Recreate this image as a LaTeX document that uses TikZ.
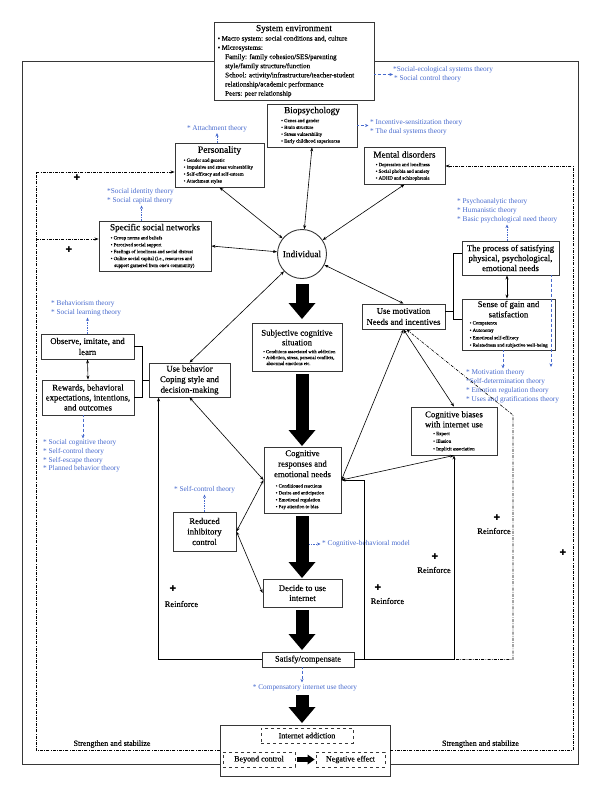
\documentclass[tikz,border=0pt]{standalone}
\usepackage{fontspec}
\setmainfont{Liberation Serif}
\newfontfamily\sbf{Liberation Serif}[FakeBold=0.25]
\newfontfamily\sbfl{Liberation Serif}[FakeBold=0.08]
\newfontfamily\djv{DejaVu Sans}
\usetikzlibrary{arrows.meta}
\definecolor{thblue}{RGB}{70,105,205}
\definecolor{bord}{RGB}{55,55,55}
\begin{document}
\begin{tikzpicture}[x=1pt,y=-1pt,
  box/.style={draw=bord, line width=0.9pt, fill=white, inner sep=0pt},
  dbox/.style={draw=bord, line width=0.8pt, dashed, inner sep=0pt, font=\sbf\fontsize{8}{9}\selectfont},
  ttl/.style={font=\sbf\fontsize{9.2}{10.5}\selectfont, align=center, inner sep=0pt},
  mid/.style={font=\sbf\fontsize{8.7}{10.5}\selectfont, align=center},
  bul/.style={font=\sbfl\fontsize{4.9}{6.9}\selectfont, align=left, inner sep=0pt, anchor=west},
  thy/.style={font=\fontsize{7.3}{9}\selectfont, text=thblue, align=left, inner sep=0pt, anchor=west},
  lbl/.style={font=\sbf\fontsize{8.5}{10}\selectfont, inner sep=0pt},
  plussign/.style={font=\djv\fontsize{8}{8}\selectfont, inner sep=0pt},
  ln/.style={line width=0.6pt},
  arr/.style={line width=0.6pt, -{Stealth[length=4pt,width=3pt]}},
  dbl/.style={line width=0.6pt, {Stealth[length=4pt,width=3pt]}-{Stealth[length=4pt,width=3pt]}},
  barr/.style={thblue, line width=0.7pt, dash pattern=on 2pt off 1.2pt on 0.6pt off 1.2pt, -{Stealth[length=3.5pt,width=3pt]}},
  dd/.style={line width=0.6pt, dash pattern=on 3pt off 1.3pt on 0.7pt off 1.3pt},
  frame/.style={draw=bord, line width=0.9pt},
  blk/.style={line width=13pt, -{Triangle[length=16pt,width=27pt,line width=0pt]}},
  sblk/.style={line width=5pt, -{Triangle[length=7pt,width=10pt,line width=0pt]}}
]
\useasboundingbox (0,0) rectangle (600,798);

% ---------- boxes ----------
\node[box, minimum width=160pt, minimum height=78pt] (sys) at (294,61) {};
\node[ttl] (syst) at (294,29) {System environment};
\node[bul, font=\sbf\fontsize{7}{9.17}\selectfont] (sysb) at (217.5,66.5) {\textbullet\hspace{1.5pt}Macro system: social conditions and, culture\\
\textbullet\hspace{1.5pt}Microsystems:\\
\hspace*{7.5pt}Family: family cohesion/SES/parenting\\
\hspace*{7.5pt}style/family structure/function\\
\hspace*{7.5pt}School: activity/infrastructure/teacher-student\\
\hspace*{7.5pt}relationship/academic performance\\
\hspace*{7.5pt}Peers: peer relationship};

\node[box, minimum width=90pt, minimum height=43pt] (bio) at (312,125.5) {};
\node[ttl] (biot) at (312,111) {Biopsychology};
\node[bul, font=\sbfl\fontsize{4.9}{6.8}\selectfont] (biob) at (281,131.2) {\textbullet\ Genes and gender\\ \textbullet\ Brain structure\\ \textbullet\ Stress vulnerability\\ \textbullet\ Early childhood experiences};

\node[box, minimum width=89pt, minimum height=44pt] (pers) at (219.5,165) {};
\node[ttl, font=\sbf\fontsize{9.6}{11}\selectfont] (perst) at (219.5,150.5) {Personality};
\node[bul] (persb) at (183.5,171) {\textbullet\ Gender and genetic\\ \textbullet\ Impulsive and stress vulnerability\\ \textbullet\ Self-efficacy and self-esteem\\ \textbullet\ Attachment styles};

\node[box, minimum width=81pt, minimum height=37pt] (ment) at (404.5,165.5) {};
\node[ttl] (mentt) at (404.5,154.5) {Mental disorders};
\node[bul, font=\sbfl\fontsize{4.9}{6.7}\selectfont] (mentb) at (375.5,171.7) {\textbullet\ Depression and loneliness\\ \textbullet\ Social phobia and anxiety\\ \textbullet\ ADHD and schizophrenia};

\node[box, minimum width=112pt, minimum height=50pt] (soc) at (155,246) {};
\node[ttl] (soct) at (155,228) {Specific social networks};
\node[bul] (socb) at (110.5,252) {\textbullet\ Group norms and beliefs\\ \textbullet\ Perceived social support\\ \textbullet\ Feelings of loneliness and social distrust\\ \textbullet\ Online social capital (i.e., resources and\\ \hspace*{3.6pt}support garnered from one's community)};

\node[circle, draw=bord, line width=0.9pt, fill=white, minimum size=49pt, inner sep=0pt, font=\sbf\fontsize{9.3}{10}\selectfont] (indiv) at (302,254) {Individual};

\node[box, mid, minimum width=97pt, minimum height=34pt, font=\sbf\fontsize{8.7}{10}\selectfont] (proc) at (510.5,258) {The process of satisfying\\physical, psychological,\\emotional needs};

\node[box, minimum width=93pt, minimum height=51pt] (sense) at (508.5,324.5) {};
\node[ttl, font=\sbf\fontsize{8.7}{10.3}\selectfont] (senset) at (508.5,309.2) {Sense of gain and\\satisfaction};
\node[bul, font=\sbfl\fontsize{4.9}{7.4}\selectfont] (senseb) at (469.5,334.5) {\textbullet\ Competence\\ \textbullet\ Autonomy\\ \textbullet\ Emotional self-efficacy\\ \textbullet\ Relatedness and subjective well-being};

\node[box, mid, minimum width=83pt, minimum height=25pt, font=\sbf\fontsize{8.7}{11}\selectfont] (mot) at (403.5,316.5) {Use motivation\\Needs and incentives};

\node[box, minimum width=90pt, minimum height=48pt] (subj) at (297,347) {};
\node[ttl, font=\sbf\fontsize{8.7}{9.6}\selectfont] (subjt) at (297,337.5) {Subjective cognitive\\situation};
\node[bul, font=\sbfl\fontsize{4.7}{5.9}\selectfont] (subjb) at (263,357.5) {\textbullet\ Conditions associated with addiction\\ \textbullet\ Addiction, stress, personal conflicts,\\ \hspace*{3.3pt}abnormal emotions etc.};

\node[box, mid, minimum width=81pt, minimum height=34pt] (useb) at (189.5,380) {Use behavior\\Coping style and\\decision-making};
\node[box, mid, minimum width=93pt, minimum height=25pt, font=\sbf\fontsize{8.7}{11}\selectfont] (obs) at (87.5,346.5) {Observe, imitate, and\\learn};
\node[box, mid, minimum width=92pt, minimum height=35pt, font=\sbf\fontsize{8.7}{10}\selectfont] (rew) at (88,397.5) {Rewards, behavioral\\expectations, intentions,\\and outcomes};

\node[box, minimum width=86pt, minimum height=48pt] (cogb) at (454,431) {};
\node[ttl, font=\sbf\fontsize{8.7}{10}\selectfont] (cogbt) at (454,419.3) {Cognitive biases\\with internet use};
\node[bul, font=\sbfl\fontsize{4.9}{7.6}\selectfont] (cogbb) at (433,441.7) {\textbullet\ Expect\\ \textbullet\ Illusion\\ \textbullet\ Implicit association};

\node[box, minimum width=77pt, minimum height=66pt] (cogr) at (302.5,480) {};
\node[ttl, font=\sbf\fontsize{8.7}{10.5}\selectfont] (cogrt) at (302.5,463.8) {Cognitive\\responses and\\emotional needs};
\node[bul] (cogrb) at (275.5,496.7) {\textbullet\ Conditioned reactions\\ \textbullet\ Desire and anticipation\\ \textbullet\ Emotional regulation\\ \textbullet\ Pay attention to bias};

\node[box, mid, minimum width=63pt, minimum height=39pt] (red) at (204.5,531.5) {Reduced\\inhibitory\\control};
\node[box, mid, minimum width=79pt, minimum height=28pt, font=\sbf\fontsize{8.7}{10}\selectfont] (dec) at (302.5,593) {Decide to use\\internet};
\node[box, mid, minimum width=92pt, minimum height=15pt, font=\sbf\fontsize{8.5}{10}\selectfont] (sat) at (308,659.5) {Satisfy/compensate};

\node[box, minimum width=170pt, minimum height=51pt] (ia) at (305,750.5) {};
\node[dbox, minimum width=92pt, minimum height=15pt] (iat) at (307,735.5) {Internet addiction};
\node[dbox, minimum width=72pt, minimum height=15pt] (bc) at (259,759.5) {Beyond control};
\node[dbox, minimum width=69pt, minimum height=15pt] (ne) at (350.5,759.5) {Negative effect};

% ---------- theory labels ----------
\node[thy] (systh) at (393,74.5) {*Social-ecological systems theory\\\hspace*{1pt}* Social control theory};
\node[thy] (bioth) at (370,127) {* Incentive-sensitization theory\\* The dual systems theory};
\node[thy, anchor=center] (persth) at (217,128.5) {* Attachment theory};
\node[thy] (socth) at (107,196.5) {*Social identity theory\\* Social capital theory};
\node[thy] (procth) at (457,211) {* Psychoanalytic theory\\* Humanistic theory\\* Basic psychological need theory};
\node[thy] (senseth) at (466,386.5) {* Motivation theory\\*Self-determination theory\\* Emotion regulation theory\\* Uses and gratifications theory};
\node[thy] (obsth) at (51,308.5) {* Behaviorism theory\\* Social learning theory};
\node[thy, font=\fontsize{7.3}{8.7}\selectfont] (rewth) at (43,456) {* Social cognitive theory\\* Self-control theory\\* Self-escape theory\\* Planned behavior theory};
\node[thy] (redth) at (174,490) {* Self-control theory};
\node[thy] (cbth) at (322,544) {* Cognitive-behavioral model};
\node[thy, anchor=center] (compth) at (305,688) {* Compensatory internet use theory};

% ---------- other labels ----------
\node[plussign] (p1) at (77,178) {✚};
\node[plussign] (p2) at (69,250) {✚};
\node[plussign] (p3) at (173,589) {✚};
\node[lbl] (r3) at (181.5,604) {Reinforce};
\node[plussign] (p4) at (378,588) {✚};
\node[lbl] (r4) at (387.5,601) {Reinforce};
\node[plussign] (p5) at (435,557) {✚};
\node[lbl] (r5) at (434,570) {Reinforce};
\node[plussign] (p6) at (497,518) {✚};
\node[lbl] (r6) at (494,531) {Reinforce};
\node[plussign] (p7) at (563,553) {✚};
\node[lbl, font=\sbf\fontsize{8}{9}\selectfont] (st1) at (112,744) {Strengthen and stabilize};
\node[lbl, font=\sbf\fontsize{8}{9}\selectfont] (st2) at (480.5,744) {Strengthen and stabilize};

% ---------- coordinates ----------
\coordinate (fl) at (22,764);
\coordinate (fr) at (578,764);
\coordinate (dl1) at (36,172);
\coordinate (dl2) at (36,239);
\coordinate (dr1) at (573,166);
\coordinate (bkt) at (453,253);
\coordinate (bkm) at (453,311);
\coordinate (bkb) at (453,319.3);
\coordinate (lb) at (142,380);
\coordinate (rj) at (364,659.5);
\coordinate (fb1) at (513,415);
\coordinate (fb2) at (513,659.5);
\coordinate (fb3) at (456,659.5);
\coordinate (bl) at (551,367);
\coordinate (cbs) at (308,544);
\coordinate (k1a) at (302,284); \coordinate (k1b) at (302,319);
\coordinate (k2a) at (302,374); \coordinate (k2b) at (302,446);
\coordinate (k3a) at (302,516); \coordinate (k3b) at (302,578);
\coordinate (k4a) at (302,610); \coordinate (k4b) at (302,650);
\coordinate (k5a) at (302,695); \coordinate (k5b) at (302,723);

% ---------- outer frame ----------
\draw[frame] (sys.west) -| (fl) -- (fl -| ia.west);
\draw[frame] (sys.east) -| (fr) -- (fr -| ia.east);

% ---------- dash-dot feedback ----------
\draw[dd, arr] (ia.west) -| (dl1) -- (dl1 -| pers.west);
\draw[dd, arr] (dl2) -- (dl2 -| soc.west);
\draw[dd, arr] (ia.east) -| (dr1) -- (dr1 -| ment.east);
\draw[dd, arr] (fb3) -- (fb2) -- (fb1) -- ([xshift=3pt]mot.south);

% ---------- black connectors ----------
\draw[dbl] (bio.south) -- (indiv);
\draw[dbl] (pers.south) -- (indiv);
\draw[dbl] (ment.south) -- (indiv);
\draw[dbl] (soc.east) -- (indiv);
\draw[dbl] (indiv) -- (mot.north);
\draw[dbl] (indiv) -- (useb.north);
\draw[dbl] (useb.south) -- (cogr.west);
\draw[dbl] (mot.south) -- (cogb.north);
\draw[dbl] (mot.south) -- (cogr.east);
\draw[dbl] (cogr.east) -- (cogb.south);
\draw[dbl] (cogr.west) -- (red.east);
\draw[dbl] (red.east) -- (dec.west);
\draw[dbl] ([xshift=-3.5pt]proc.south) -- ([xshift=-1.5pt]sense.north);
\draw[dbl] (obs.south) -- (rew.north);
\draw[arr] (sat.west) -| ([xshift=10pt]useb.south west);
\draw[arr] (sat.east) -- (rj) |- (cogr.east);
\draw[arr] (sat.east) -| (cogb.south);
\draw[ln] (bkt -| proc.west) -- (bkt) -- (bkb) -- (bkb -| sense.west);
\draw[ln] (bkm -| mot.east) -- (bkm);
\draw[ln] (obs.east) -| (lb |- rew.east) -- (rew.east);
\draw[ln] (lb) -- (useb.west);

% ---------- blue theory arrows ----------
\draw[barr] (sys.east |- systh.west) -- (systh.west);
\draw[barr, shorten >=1.5pt] (bio.east) -- (bio.east -| bioth.west);
\draw[barr, shorten >=1pt] (persth.south |- pers.north) -- (persth.south);
\draw[barr, shorten >=1pt] ([xshift=43pt]soc.north west) -- ([xshift=43pt]soc.north west |- socth.south);
\draw[barr, shorten >=1pt] ([xshift=-3.5pt]proc.north) -- ([xshift=-3.5pt]proc.north |- procth.south);
\draw[barr, shorten >=1pt] ([xshift=-5.5pt]sense.south) -- ([xshift=-5.5pt]sense.south |- senseth.north);
\draw[barr] ([xshift=40.5pt]proc.south) -- (bl);
\draw[barr, shorten >=1pt] (obs.north) -- (obs.north |- obsth.south);
\draw[barr, shorten >=1pt] ([xshift=-5pt]rew.south) -- ([xshift=-5pt]rew.south |- rewth.north);
\draw[barr, shorten >=1pt] (red.north) -- (red.north |- redth.south);
\draw[barr, shorten >=1.5pt] (cbs) -- (cbth.west);
\draw[barr, shorten >=2pt] ([xshift=-6pt]sat.south) -- ([xshift=-6pt]sat.south |- compth.north);

% ---------- block arrows ----------
\draw[blk] (k1a) -- (k1b);
\draw[blk] (k2a) -- (k2b);
\draw[blk] (k3a) -- (k3b);
\draw[blk] (k4a) -- (k4b);
\draw[blk] (k5a) -- (k5b);
\draw[sblk, shorten <=1.5pt, shorten >=1pt] (bc.east) -- (ne.west);
\end{tikzpicture}
\end{document}
